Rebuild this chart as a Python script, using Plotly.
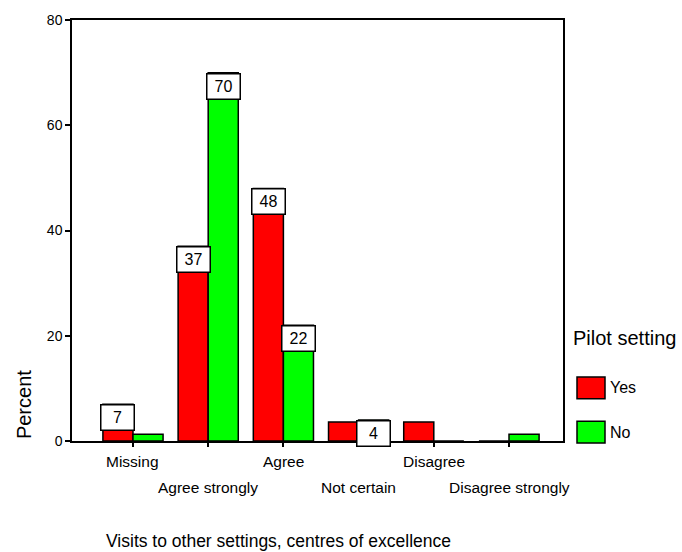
import plotly.graph_objects as go

# Response categories and percentages by pilot setting
categories = ["Missing", "Agree strongly", "Agree", "Not certain", "Disagree", "Disagree strongly"]
pct_yes = [7, 37, 48, 3.6, 3.6, 0]
pct_no = [1.3, 70, 22, 4, 0, 1.3]
# which bars carry a value label
label_yes = [True, True, True, False, False, False]
label_no = [False, True, True, True, False, False]
y_ticks = [0, 20, 40, 60, 80]

RED = "#ff0000"
GREEN = "#00ff00"
FONT = "Arial, Liberation Sans, sans-serif"

W, H = 682, 552
ML, MR, MT, MB = 72, 119, 13, 111
PW, PH = W - ML - MR, H - MT - MB

idx = list(range(len(categories)))
BAR_OFF = 0.2  # half of a bar's width in axis units (bargap 0.2, two bars)

fig = go.Figure()
fig.add_bar(x=idx, y=pct_yes, name="Yes", marker=dict(color=RED, line=dict(color="black", width=1.5)))
fig.add_bar(x=idx, y=pct_no, name="No", marker=dict(color=GREEN, line=dict(color="black", width=1.5)))

ann = []
# value labels in white boxes sitting at the top of the bars
for vals, flags, off in ((pct_yes, label_yes, -BAR_OFF), (pct_no, label_no, BAR_OFF)):
    for i, (v, f) in enumerate(zip(vals, flags)):
        if f:
            ann.append(dict(x=i + off, y=v, xref="x", yref="y", text=f"{v:.0f}",
                            showarrow=False, yanchor="top", xanchor="center",
                            font=dict(size=16, color="black", family=FONT),
                            bgcolor="white", bordercolor="black", borderwidth=1.5,
                            borderpad=1, width=30, height=22))

# staggered category labels
for i, c in enumerate(categories):
    ann.append(dict(x=i, y=0, xref="x", yref="paper", text=c, showarrow=False,
                    xanchor="center", yanchor="middle", yshift=-20 if i % 2 == 0 else -46,
                    font=dict(size=15.5, color="black", family=FONT)))

# axis titles
ann.append(dict(x=(104 - ML) / PW, y=0, xref="paper", yref="paper", yshift=-100,
                text="Visits to other settings, centres of excellence", showarrow=False,
                xanchor="left", yanchor="middle", font=dict(size=17.5, color="black", family=FONT)))
ann.append(dict(x=(23.5 - ML) / PW, y=(H - MB - 404) / PH, xref="paper", yref="paper",
                text="Percent", textangle=-90, showarrow=False, xanchor="center", yanchor="middle",
                font=dict(size=20, color="black", family=FONT)))

# legend drawn by hand
def px_x(p):
    return (p - ML) / PW

def px_y(p):
    return (H - MB - p) / PH

ann.append(dict(x=px_x(571), y=px_y(336), xref="paper", yref="paper", text="Pilot setting",
                showarrow=False, xanchor="left", yanchor="middle",
                font=dict(size=20, color="black", family=FONT)))
shapes = []
for name, col, top in (("Yes", RED, 376), ("No", GREEN, 421)):
    shapes.append(dict(type="rect", xref="paper", yref="paper",
                       x0=px_x(577), x1=px_x(605), y0=px_y(top + 22), y1=px_y(top),
                       fillcolor=col, line=dict(color="black", width=1.5)))
    ann.append(dict(x=px_x(608), y=px_y(top + 11), xref="paper", yref="paper", text=name,
                    showarrow=False, xanchor="left", yanchor="middle",
                    font=dict(size=16, color="black", family=FONT)))

fig.update_layout(
    width=W, height=H, margin=dict(l=ML, r=MR, t=MT, b=MB),
    paper_bgcolor="white", plot_bgcolor="white",
    barmode="group", bargap=0.2, bargroupgap=0,
    showlegend=False, annotations=ann, shapes=shapes,
    font=dict(family=FONT, color="black"),
    xaxis=dict(range=[-0.811, 5.718], tickvals=idx, ticktext=[""] * len(idx),
               ticks="outside", ticklen=4, tickcolor="black", tickwidth=1.5,
               showline=True, linecolor="black", linewidth=1.5, mirror=True,
               showgrid=False, zeroline=False, fixedrange=True),
    yaxis=dict(range=[0, 80], tickvals=y_ticks, ticks="outside", ticklen=5,
               tickcolor="black", tickwidth=1.5, showline=True, linecolor="black",
               linewidth=1.5, mirror=True, showgrid=False, zeroline=False,
               tickfont=dict(size=14, color="black", family=FONT), fixedrange=True),
)

fig.write_html("out.html")
